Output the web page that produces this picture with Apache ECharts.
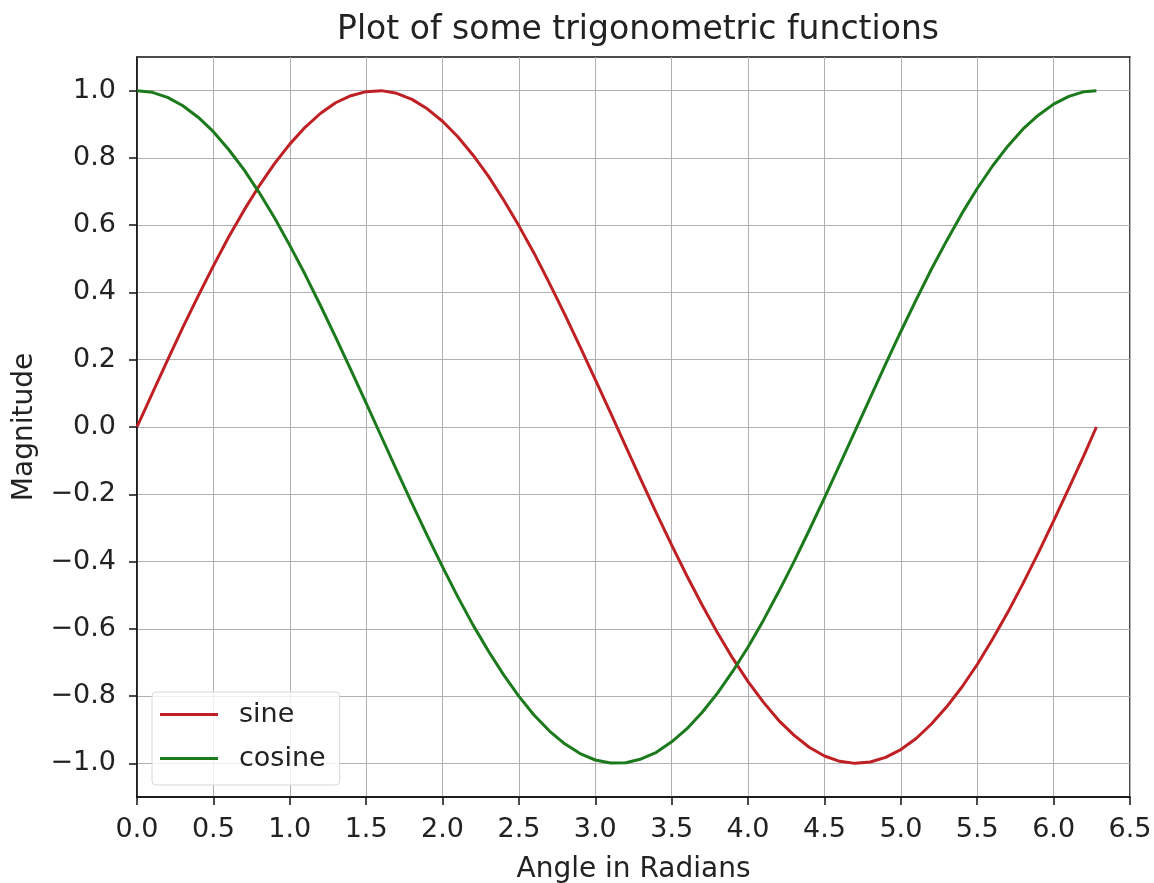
<!DOCTYPE html>
<html>
<head>
<meta charset="utf-8">
<title>Plot of some trigonometric functions</title>
<script src="https://cdn.jsdelivr.net/npm/echarts@6/dist/echarts.min.js"></script>
<style>
  html, body { margin: 0; padding: 0; background: #fff; }
  #chart { width: 1154px; height: 883px; }
</style>
</head>
<body>
<div id="chart"></div>
<script>
// angle samples (radians) along the x axis
const angles = [0, 0.1, 0.2, 0.3, 0.4, 0.5, 0.6, 0.7, 0.8, 0.9, 1.0, 1.1, 1.2, 1.3, 1.4, 1.5, 1.6, 1.7, 1.8, 1.9,
  2.0, 2.1, 2.2, 2.3, 2.4, 2.5, 2.6, 2.7, 2.8, 2.9, 3.0, 3.1, 3.2, 3.3, 3.4, 3.5, 3.6, 3.7, 3.8, 3.9,
  4.0, 4.1, 4.2, 4.3, 4.4, 4.5, 4.6, 4.7, 4.8, 4.9, 5.0, 5.1, 5.2, 5.3, 5.4, 5.5, 5.6, 5.7, 5.8, 5.9,
  6.0, 6.1, 6.2, 6.28];
// red curve
const sineValues = [0, 0.100, 0.199, 0.296, 0.389, 0.479, 0.565, 0.644, 0.717, 0.783,
  0.841, 0.891, 0.932, 0.964, 0.985, 0.997, 1.000, 0.992, 0.974, 0.946,
  0.909, 0.863, 0.808, 0.746, 0.675, 0.598, 0.516, 0.427, 0.335, 0.239,
  0.141, 0.042, -0.058, -0.158, -0.256, -0.351, -0.443, -0.530, -0.612, -0.688,
  -0.757, -0.818, -0.872, -0.916, -0.952, -0.978, -0.994, -1.000, -0.996, -0.982,
  -0.959, -0.926, -0.883, -0.832, -0.773, -0.706, -0.631, -0.551, -0.465, -0.374,
  -0.279, -0.182, -0.083, 0];
// green curve
const cosineValues = [1.000, 0.995, 0.980, 0.955, 0.921, 0.878, 0.825, 0.765, 0.697, 0.622,
  0.540, 0.454, 0.362, 0.267, 0.170, 0.071, -0.029, -0.129, -0.227, -0.323,
  -0.416, -0.505, -0.589, -0.666, -0.737, -0.801, -0.857, -0.904, -0.942, -0.971,
  -0.990, -0.999, -0.998, -0.987, -0.967, -0.936, -0.897, -0.848, -0.791, -0.726,
  -0.654, -0.575, -0.490, -0.401, -0.307, -0.211, -0.112, -0.012, 0.087, 0.187,
  0.284, 0.378, 0.469, 0.554, 0.635, 0.709, 0.776, 0.835, 0.886, 0.927,
  0.960, 0.983, 0.997, 1.000];
// y tick labels
const yTicks = [-1.0, -0.8, -0.6, -0.4, -0.2, 0.0, 0.2, 0.4, 0.6, 0.8, 1.0];

const font = "DejaVu Sans";
const zip = (xs, ys) => xs.map((x, i) => [x, ys[i]]);

const chart = echarts.init(document.getElementById("chart"));
const options = {
  animation: false,
  textStyle: { fontFamily: font },
  title: {
    text: "Plot of some trigonometric functions",
    left: 633,
    textAlign: "center",
    top: 9,
    textStyle: { fontFamily: font, fontSize: 33, fontWeight: "normal", color: "#222" }
  },
  grid: {
    left: 137, top: 57, right: 24, bottom: 86,
    containLabel: false,
    outerBoundsMode: "none",
    show: true,
    borderColor: "#111",
    borderWidth: 1.5,
    backgroundColor: "transparent"
  },
  legend: {
    left: 152, top: 692,
    orient: "vertical",
    backgroundColor: "rgba(255,255,255,0.8)",
    borderColor: "#d8d8d8",
    borderWidth: 1,
    borderRadius: 4,
    padding: [9, 14, 13, 8],
    icon: "rect",
    itemWidth: 58,
    itemHeight: 3,
    itemGap: 17,
    textStyle: { fontFamily: font, fontSize: 27, color: "#222", padding: [0, 0, 0, 16] },
    data: ["sine", "cosine"]
  },
  //横坐标
  xAxis: {
    type: "value",
    min: 0, max: 6.5, interval: 0.5,
    name: "Angle in Radians",
    nameLocation: "middle",
    nameGap: 59,
    nameTextStyle: { fontFamily: font, fontSize: 28, color: "#222" },
    axisLine: { show: true, onZero: false, lineStyle: { color: "#111", width: 1.5 } },
    axisTick: { show: true, length: 8, inside: false, lineStyle: { color: "#111", width: 1.5 } },
    axisLabel: { fontSize: 27, color: "#222", margin: 19, formatter: v => v.toFixed(1) },
    splitLine: { show: true, lineStyle: { color: "#b0b0b0", width: 1 } }
  },
  //纵坐标
  yAxis: {
    type: "value",
    min: -1.1, max: 1.1,
    name: "Magnitude",
    nameLocation: "middle",
    nameGap: 98,
    nameRotate: 90,
    nameTextStyle: { fontFamily: font, fontSize: 28, color: "#222" },
    axisLine: { show: true, onZero: false, lineStyle: { color: "#111", width: 1.5 } },
    axisTick: { show: true, length: 8, customValues: yTicks, lineStyle: { color: "#111", width: 1.5 } },
    axisLabel: {
      fontSize: 27, color: "#222", margin: 21, customValues: yTicks,
      formatter: v => (v < 0 ? "\u2212" + Math.abs(v).toFixed(1) : v.toFixed(1))
    },
    splitLine: { show: true, lineStyle: { color: "#b0b0b0", width: 1 } }
  },
  series: [
    {
      name: "sine",
      type: "line",
      data: zip(angles, sineValues),
      showSymbol: false,
      symbol: "none",
      lineStyle: { color: "#bf2024", width: 3 },
      itemStyle: { color: "#bf2024" }
    },
    {
      name: "cosine",
      type: "line",
      data: zip(angles, cosineValues),
      showSymbol: false,
      symbol: "none",
      lineStyle: { color: "#1b7a1b", width: 3 },
      itemStyle: { color: "#1b7a1b" }
    }
  ]
};
chart.setOption(options);
</script>
</body>
</html>
